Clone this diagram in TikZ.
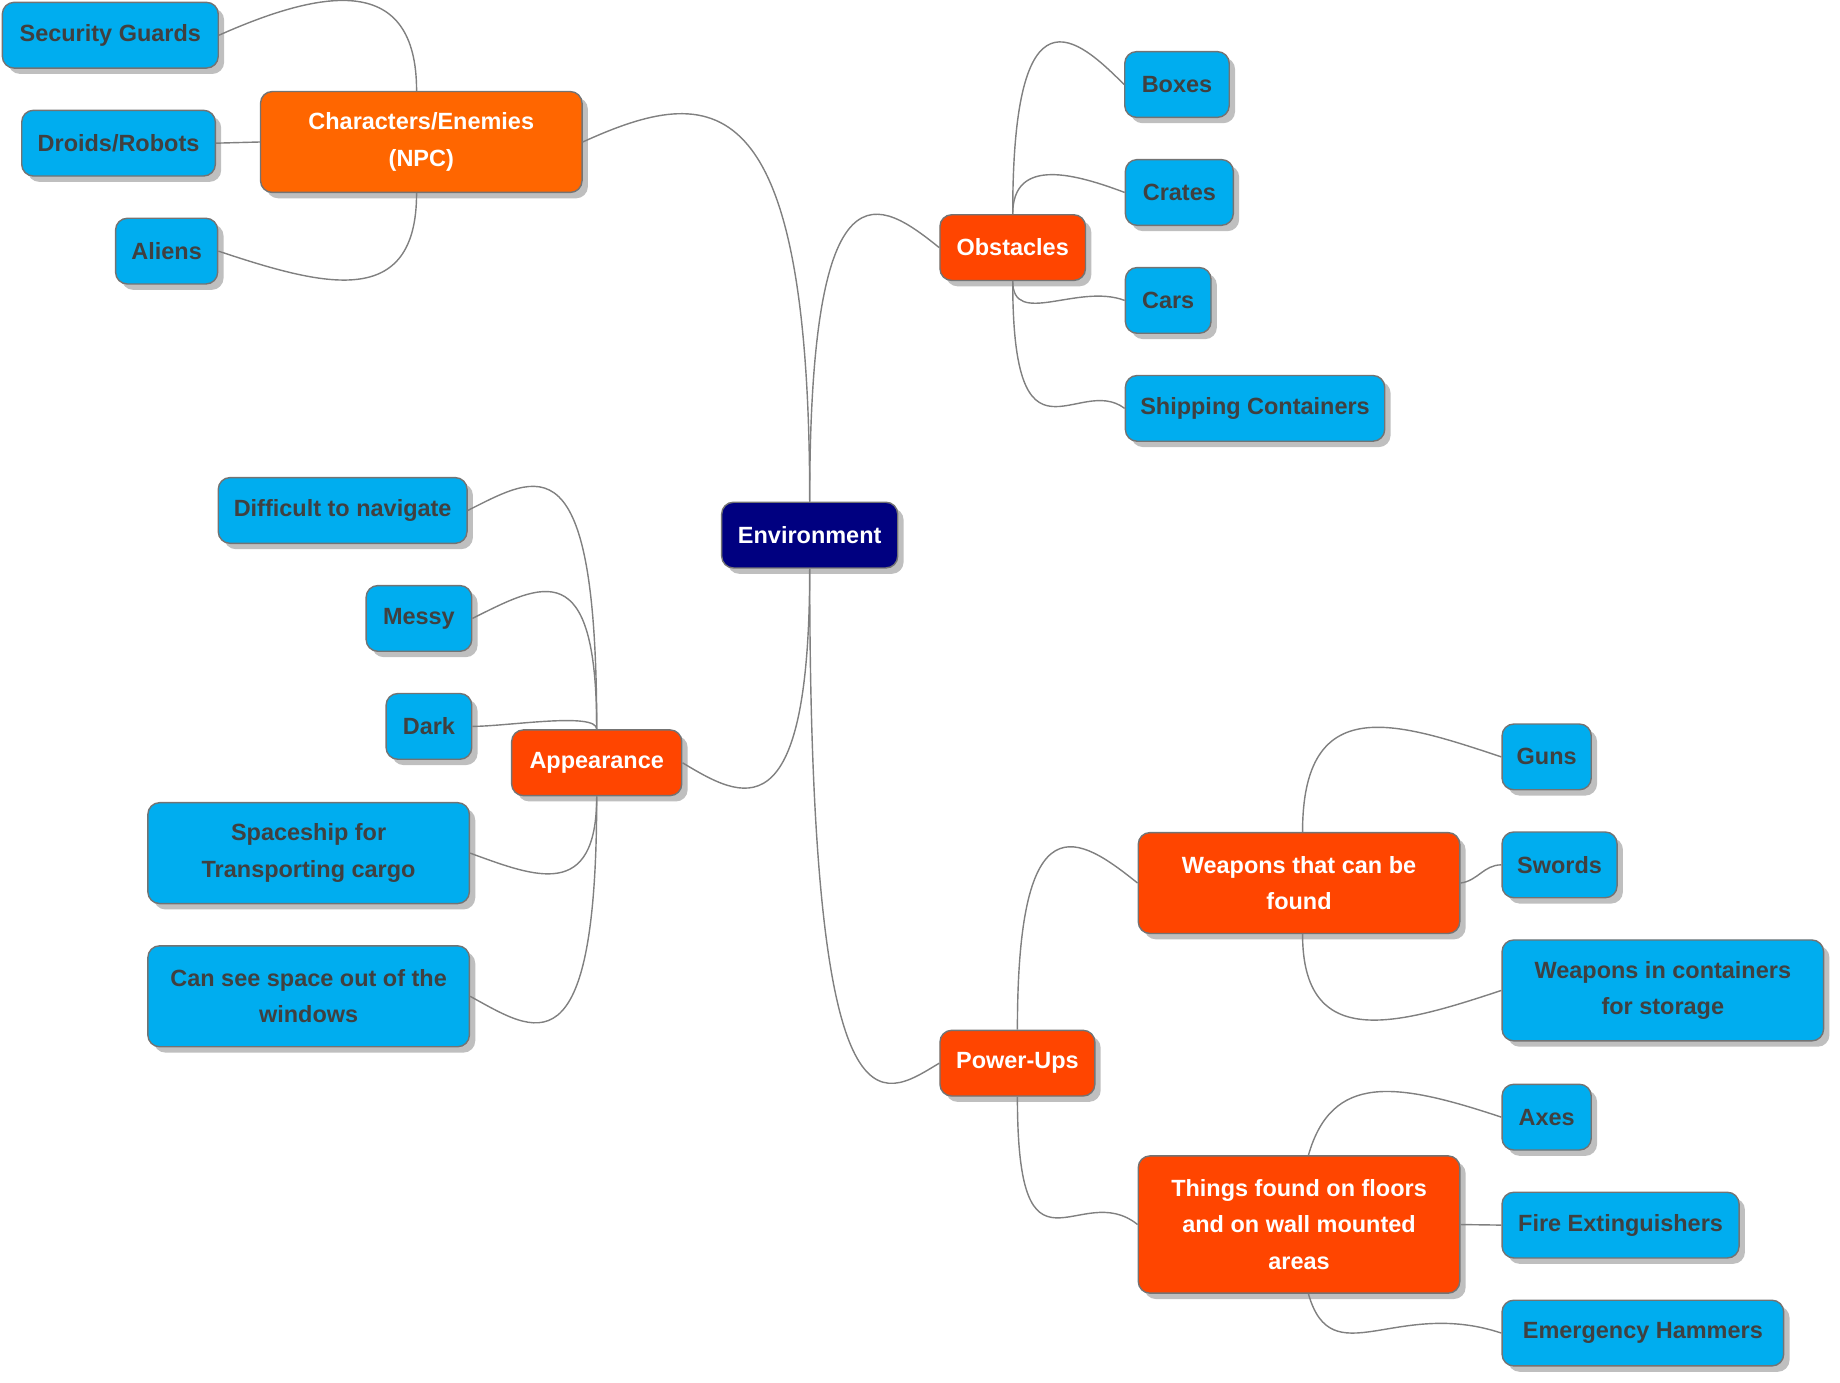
\documentclass[tikz,border=0pt]{standalone}
\usepackage{fontspec}
\setmainfont{Liberation Sans}
\usetikzlibrary{shadows}
\begin{document}
\begin{tikzpicture}[x=0.5pt,y=-0.5pt,
  box/.style={draw=gray!90!black,line width=0.6pt,rounded corners=5pt,minimum height=28pt,inner sep=0pt,
    font=\bfseries\fontsize{10}{15.5}\selectfont,align=center,
    drop shadow={shadow xshift=2.5pt,shadow yshift=-2.5pt,fill=black,opacity=0.25}},
  leaf/.style={box,fill=cyan,text=black!75},
  mid/.style={box,fill={rgb,255:red,255;green,69;blue,0},text=white},
  edge/.style={draw=gray,line width=0.6pt}]
\useasboundingbox (0,0) rectangle (1568,1178);
\node[box,fill={rgb,255:red,0;green,0;blue,128},text=white,minimum width=75pt] (env) at (690,456) {Environment};
\node[box,fill={rgb,255:red,255;green,102;blue,0},text=white,minimum width=137pt,minimum height=43pt] (chr) at (359,121) {Characters/Enemies\\(NPC)};
\node[leaf,minimum width=92pt] (sg) at (94,30) {Security Guards};
\node[leaf,minimum width=82.5pt] (dr) at (101,122) {Droids/Robots};
\node[leaf,minimum width=43.5pt] (al) at (142,214) {Aliens};
\node[mid,minimum width=62pt] (obs) at (863,211) {Obstacles};
\node[leaf,minimum width=44.5pt] (bx) at (1003,72) {Boxes};
\node[leaf,minimum width=46pt] (cr) at (1005,164) {Crates};
\node[leaf,minimum width=36.5pt] (ca) at (995.5,256) {Cars};
\node[leaf,minimum width=110.5pt] (sc) at (1069.5,348) {Shipping Containers};
\node[mid,minimum width=72.5pt] (ap) at (508.5,650) {Appearance};
\node[leaf,minimum width=106pt] (dn) at (292,435) {Difficult to navigate};
\node[leaf,minimum width=45pt] (me) at (357,527) {Messy};
\node[leaf,minimum width=36.5pt] (dk) at (365.5,619) {Dark};
\node[leaf,minimum width=137pt,minimum height=43pt] (sp) at (263,727) {Spaceship for\\Transporting cargo};
\node[leaf,minimum width=137pt,minimum height=43pt] (wi) at (263,849) {Can see space out of the\\windows};
\node[mid,minimum width=66pt] (pu) at (867,906) {Power-Ups};
\node[mid,minimum width=137pt,minimum height=43pt] (we) at (1107,752.5) {Weapons that can be\\found};
\node[leaf,minimum width=38pt] (gu) at (1318,645) {Guns};
\node[leaf,minimum width=49pt] (sw) at (1329,737) {Swords};
\node[leaf,minimum width=137pt,minimum height=43pt] (wc) at (1417,844) {Weapons in containers\\for storage};
\node[mid,minimum width=137pt,minimum height=58.5pt] (th) at (1107,1043.5) {Things found on floors\\and on wall mounted\\areas};
\node[leaf,minimum width=38pt] (ax) at (1318,952) {Axes};
\node[leaf,minimum width=101pt] (fe) at (1381,1044) {Fire Extinguishers};
\node[leaf,minimum width=120pt] (eh) at (1400,1136) {Emergency Hammers};
\begin{scope}[on background layer/.style={}]
\draw[edge] (env.north) .. controls +(0,-360) and +(110,-50) .. (chr.east);
\draw[edge] (env.north) .. controls +(0,-300) and +(-50,-40) .. (obs.west);
\draw[edge] (env.south) .. controls +(0,230) and +(50,30) .. (ap.east);
\draw[edge] (env.south) .. controls +(0,500) and +(-50,30) .. (pu.west);
\draw[edge] ([xshift=-2pt]chr.north) .. controls +(0,-100) and +(90,-40) .. (sg.east);
\draw[edge] (chr.west) -- (dr.east);
\draw[edge] ([xshift=-2pt]chr.south) .. controls +(0,100) and +(90,30) .. (al.east);
\draw[edge] (obs.north) .. controls +(0,-200) and +(-40,-40) .. (bx.west);
\draw[edge] (obs.north) .. controls +(0,-50) and +(-40,-15) .. (cr.west);
\draw[edge] (obs.south) .. controls +(0,40) and +(-40,-15) .. (ca.west);
\draw[edge] (obs.south) .. controls +(0,170) and +(-40,-30) .. (sc.west);
\draw[edge] (ap.north) .. controls +(0,-250) and +(60,-30) .. (dn.east);
\draw[edge] (ap.north) .. controls +(0,-150) and +(60,-30) .. (me.east);
\draw[edge] (ap.north) .. controls +(0,-15) and +(30,0) .. (dk.east);
\draw[edge] (ap.south) .. controls +(0,90) and +(55,20) .. (sp.east);
\draw[edge] (ap.south) .. controls +(0,240) and +(55,30) .. (wi.east);
\draw[edge] (pu.north) .. controls +(0,-200) and +(-50,-40) .. (we.west);
\draw[edge] (pu.south) .. controls +(0,170) and +(-50,-40) .. (th.west);
\draw[edge] ([xshift=1.5pt]we.north) .. controls +(0,-120) and +(-90,-30) .. (gu.west);
\draw[edge] (we.east) .. controls +(15,-2) and +(-15,0) .. (sw.west);
\draw[edge] ([xshift=1.5pt]we.south) .. controls +(0,100) and +(-90,30) .. (wc.west);
\draw[edge] ([xshift=4pt]th.north) .. controls +(20,-70) and +(-90,-30) .. (ax.west);
\draw[edge] (th.east) -- (fe.west);
\draw[edge] ([xshift=4pt]th.south) .. controls +(20,70) and +(-90,-30) .. (eh.west);
\end{scope}
\end{tikzpicture}
\end{document}
